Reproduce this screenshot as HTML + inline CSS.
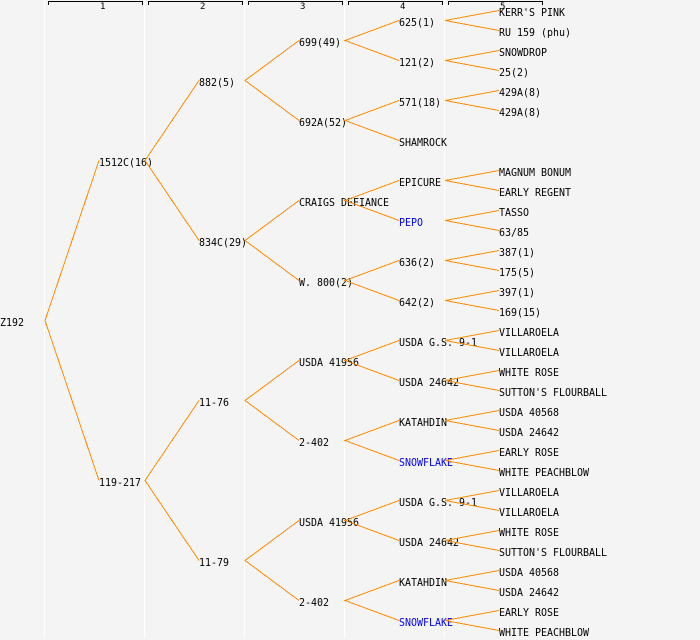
<!DOCTYPE html>
<html><head><meta charset="utf-8"><style>
html,body{margin:0;padding:0;background:#f4f4f4;}
svg{display:block;}
text{font-family:"DejaVu Sans Mono","Liberation Mono",monospace;font-size:11px;fill:#000;}
.h{font-size:9px;}
.b{fill:#0000ff;}
</style></head><body>
<svg width="700" height="640" viewBox="0 0 700 640" xmlns="http://www.w3.org/2000/svg">
<rect x="0" y="0" width="700" height="640" fill="#f4f4f4"/>
<g stroke="#ffffff" stroke-width="1" shape-rendering="crispEdges">
<line x1="44.5" y1="0" x2="44.5" y2="638"/>
<line x1="144.5" y1="0" x2="144.5" y2="638"/>
<line x1="244.5" y1="0" x2="244.5" y2="638"/>
<line x1="344.5" y1="0" x2="344.5" y2="638"/>
<line x1="444.5" y1="0" x2="444.5" y2="638"/>
</g>
<g stroke="#000" stroke-width="1" fill="none" shape-rendering="crispEdges">
<path d="M48.5,5 V1.5 H142.5 V5"/>
<path d="M148.5,5 V1.5 H242.5 V5"/>
<path d="M248.5,5 V1.5 H342.5 V5"/>
<path d="M348.5,5 V1.5 H442.5 V5"/>
<path d="M448.5,5 V1.5 H542.5 V5"/>
</g>
<text class="h" x="100" y="9">1</text>
<text class="h" x="200" y="9">2</text>
<text class="h" x="300" y="9">3</text>
<text class="h" x="400" y="9">4</text>
<text class="h" x="500" y="9">5</text>

<!-- labels: baseline = center + 4 -->
<text x="0" y="326" textLength="24" lengthAdjust="spacingAndGlyphs">Z192</text>

<text x="99" y="166" textLength="54" lengthAdjust="spacingAndGlyphs">1512C(16)</text>
<text x="99" y="486" textLength="42" lengthAdjust="spacingAndGlyphs">119-217</text>

<text x="199" y="86" textLength="36" lengthAdjust="spacingAndGlyphs">882(5)</text>
<text x="199" y="246" textLength="48" lengthAdjust="spacingAndGlyphs">834C(29)</text>
<text x="199" y="406" textLength="30" lengthAdjust="spacingAndGlyphs">11-76</text>
<text x="199" y="566" textLength="30" lengthAdjust="spacingAndGlyphs">11-79</text>

<text x="299" y="46" textLength="42" lengthAdjust="spacingAndGlyphs">699(49)</text>
<text x="299" y="126" textLength="48" lengthAdjust="spacingAndGlyphs">692A(52)</text>
<text x="299" y="206" textLength="90" lengthAdjust="spacingAndGlyphs">CRAIGS DEFIANCE</text>
<text x="299" y="286" textLength="54" lengthAdjust="spacingAndGlyphs">W. 800(2)</text>
<text x="299" y="366" textLength="60" lengthAdjust="spacingAndGlyphs">USDA 41956</text>
<text x="299" y="446" textLength="30" lengthAdjust="spacingAndGlyphs">2-402</text>
<text x="299" y="526" textLength="60" lengthAdjust="spacingAndGlyphs">USDA 41956</text>
<text x="299" y="606" textLength="30" lengthAdjust="spacingAndGlyphs">2-402</text>

<text x="399" y="26" textLength="36" lengthAdjust="spacingAndGlyphs">625(1)</text>
<text x="399" y="66" textLength="36" lengthAdjust="spacingAndGlyphs">121(2)</text>
<text x="399" y="106" textLength="42" lengthAdjust="spacingAndGlyphs">571(18)</text>
<text x="399" y="146" textLength="48" lengthAdjust="spacingAndGlyphs">SHAMROCK</text>
<text x="399" y="186" textLength="42" lengthAdjust="spacingAndGlyphs">EPICURE</text>
<text x="399" y="226" textLength="24" lengthAdjust="spacingAndGlyphs" class="b">PEPO</text>
<text x="399" y="266" textLength="36" lengthAdjust="spacingAndGlyphs">636(2)</text>
<text x="399" y="306" textLength="36" lengthAdjust="spacingAndGlyphs">642(2)</text>
<text x="399" y="346" textLength="78" lengthAdjust="spacingAndGlyphs">USDA G.S. 9-1</text>
<text x="399" y="386" textLength="60" lengthAdjust="spacingAndGlyphs">USDA 24642</text>
<text x="399" y="426" textLength="48" lengthAdjust="spacingAndGlyphs">KATAHDIN</text>
<text x="399" y="466" textLength="54" lengthAdjust="spacingAndGlyphs" class="b">SNOWFLAKE</text>
<text x="399" y="506" textLength="78" lengthAdjust="spacingAndGlyphs">USDA G.S. 9-1</text>
<text x="399" y="546" textLength="60" lengthAdjust="spacingAndGlyphs">USDA 24642</text>
<text x="399" y="586" textLength="48" lengthAdjust="spacingAndGlyphs">KATAHDIN</text>
<text x="399" y="626" textLength="54" lengthAdjust="spacingAndGlyphs" class="b">SNOWFLAKE</text>

<text x="499" y="16" textLength="66" lengthAdjust="spacingAndGlyphs">KERR'S PINK</text>
<text x="499" y="36" textLength="72" lengthAdjust="spacingAndGlyphs">RU 159 (phu)</text>
<text x="499" y="56" textLength="48" lengthAdjust="spacingAndGlyphs">SNOWDROP</text>
<text x="499" y="76" textLength="30" lengthAdjust="spacingAndGlyphs">25(2)</text>
<text x="499" y="96" textLength="42" lengthAdjust="spacingAndGlyphs">429A(8)</text>
<text x="499" y="116" textLength="42" lengthAdjust="spacingAndGlyphs">429A(8)</text>
<text x="499" y="176" textLength="72" lengthAdjust="spacingAndGlyphs">MAGNUM BONUM</text>
<text x="499" y="196" textLength="72" lengthAdjust="spacingAndGlyphs">EARLY REGENT</text>
<text x="499" y="216" textLength="30" lengthAdjust="spacingAndGlyphs">TASSO</text>
<text x="499" y="236" textLength="30" lengthAdjust="spacingAndGlyphs">63/85</text>
<text x="499" y="256" textLength="36" lengthAdjust="spacingAndGlyphs">387(1)</text>
<text x="499" y="276" textLength="36" lengthAdjust="spacingAndGlyphs">175(5)</text>
<text x="499" y="296" textLength="36" lengthAdjust="spacingAndGlyphs">397(1)</text>
<text x="499" y="316" textLength="42" lengthAdjust="spacingAndGlyphs">169(15)</text>
<text x="499" y="336" textLength="60" lengthAdjust="spacingAndGlyphs">VILLAROELA</text>
<text x="499" y="356" textLength="60" lengthAdjust="spacingAndGlyphs">VILLAROELA</text>
<text x="499" y="376" textLength="60" lengthAdjust="spacingAndGlyphs">WHITE ROSE</text>
<text x="499" y="396" textLength="108" lengthAdjust="spacingAndGlyphs">SUTTON'S FLOURBALL</text>
<text x="499" y="416" textLength="60" lengthAdjust="spacingAndGlyphs">USDA 40568</text>
<text x="499" y="436" textLength="60" lengthAdjust="spacingAndGlyphs">USDA 24642</text>
<text x="499" y="456" textLength="60" lengthAdjust="spacingAndGlyphs">EARLY ROSE</text>
<text x="499" y="476" textLength="90" lengthAdjust="spacingAndGlyphs">WHITE PEACHBLOW</text>
<text x="499" y="496" textLength="60" lengthAdjust="spacingAndGlyphs">VILLAROELA</text>
<text x="499" y="516" textLength="60" lengthAdjust="spacingAndGlyphs">VILLAROELA</text>
<text x="499" y="536" textLength="60" lengthAdjust="spacingAndGlyphs">WHITE ROSE</text>
<text x="499" y="556" textLength="108" lengthAdjust="spacingAndGlyphs">SUTTON'S FLOURBALL</text>
<text x="499" y="576" textLength="60" lengthAdjust="spacingAndGlyphs">USDA 40568</text>
<text x="499" y="596" textLength="60" lengthAdjust="spacingAndGlyphs">USDA 24642</text>
<text x="499" y="616" textLength="60" lengthAdjust="spacingAndGlyphs">EARLY ROSE</text>
<text x="499" y="636" textLength="90" lengthAdjust="spacingAndGlyphs">WHITE PEACHBLOW</text>

<g stroke="#ff8c00" stroke-width="1" fill="none" shape-rendering="crispEdges">
<!-- root -->
<path d="M99,160.5 L45,320.5 L99,480.5"/>
<!-- level 1 -->
<path d="M199,80.5 L145,160.5 L199,240.5"/>
<path d="M199,400.5 L145,480.5 L199,560.5"/>
<!-- level 2 -->
<path d="M299,40.5 L245,80.5 L299,120.5"/>
<path d="M299,200.5 L245,240.5 L299,280.5"/>
<path d="M299,360.5 L245,400.5 L299,440.5"/>
<path d="M299,520.5 L245,560.5 L299,600.5"/>
<!-- level 3 -->
<path d="M399,20.5 L345,40.5 L399,60.5"/>
<path d="M399,100.5 L345,120.5 L399,140.5"/>
<path d="M399,180.5 L345,200.5 L399,220.5"/>
<path d="M399,260.5 L345,280.5 L399,300.5"/>
<path d="M399,340.5 L345,360.5 L399,380.5"/>
<path d="M399,420.5 L345,440.5 L399,460.5"/>
<path d="M399,500.5 L345,520.5 L399,540.5"/>
<path d="M399,580.5 L345,600.5 L399,620.5"/>
<!-- level 4 -->
<path d="M499,10.5 L445,20.5 L499,30.5"/>
<path d="M499,50.5 L445,60.5 L499,70.5"/>
<path d="M499,90.5 L445,100.5 L499,110.5"/>
<path d="M499,170.5 L445,180.5 L499,190.5"/>
<path d="M499,210.5 L445,220.5 L499,230.5"/>
<path d="M499,250.5 L445,260.5 L499,270.5"/>
<path d="M499,290.5 L445,300.5 L499,310.5"/>
<path d="M499,330.5 L445,340.5 L499,350.5"/>
<path d="M499,370.5 L445,380.5 L499,390.5"/>
<path d="M499,410.5 L445,420.5 L499,430.5"/>
<path d="M499,450.5 L445,460.5 L499,470.5"/>
<path d="M499,490.5 L445,500.5 L499,510.5"/>
<path d="M499,530.5 L445,540.5 L499,550.5"/>
<path d="M499,570.5 L445,580.5 L499,590.5"/>
<path d="M499,610.5 L445,620.5 L499,630.5"/>
</g>
</svg>
</body></html>
